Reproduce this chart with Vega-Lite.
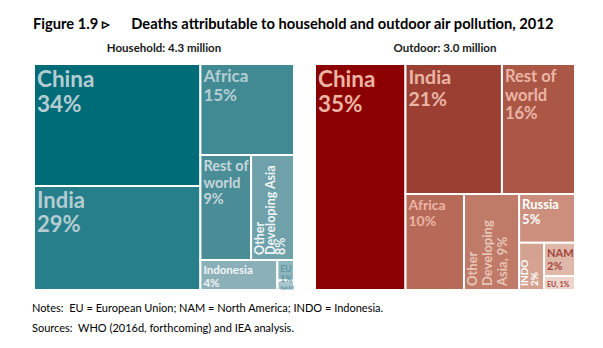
{
  "$schema": "https://vega.github.io/schema/vega-lite/v6.json",
  "background": "white",
  "padding": {"left": 32, "top": 16, "right": 5, "bottom": 0},
  "config": {"view": {"stroke": null}, "text": {"font": "Lato"}},
  "datasets": {
    "household": [
      {"region": "China", "label": "China\n34%", "share": 34, "x0": 0, "x1": 64, "ytop": 0, "ybot": 54},
      {"region": "India", "label": "India\n29%", "share": 29, "x0": 0, "x1": 64, "ytop": 54, "ybot": 100},
      {"region": "Africa", "label": "Africa\n15%", "share": 15, "x0": 64, "x1": 100, "ytop": 0, "ybot": 40.3},
      {"region": "Rest of world", "label": "Rest of\nworld\n9%", "share": 9, "x0": 64, "x1": 83.5, "ytop": 40.3, "ybot": 86.7},
      {"region": "Other Developing Asia", "label": "Other\nDeveloping Asia\n8%", "share": 8, "x0": 83.5, "x1": 100, "ytop": 40.3, "ybot": 86.7},
      {"region": "Indonesia", "label": "Indonesia\n4%", "share": 4, "x0": 64, "x1": 93.6, "ytop": 86.7, "ybot": 100},
      {"region": "EU", "label": "EU\n1%", "share": 1, "x0": 93.6, "x1": 100, "ytop": 86.7, "ybot": 95.8},
      {"region": "NAM", "label": "NAM", "share": 0.3, "x0": 93.6, "x1": 100, "ytop": 95.8, "ybot": 100}
    ],
    "outdoor": [
      {"region": "China", "label": "China\n35%", "share": 35, "x0": 0, "x1": 34.8, "ytop": 0, "ybot": 100},
      {"region": "India", "label": "India\n21%", "share": 21, "x0": 34.8, "x1": 71.9, "ytop": 0, "ybot": 57.5},
      {"region": "Rest of world", "label": "Rest of\nworld\n16%", "share": 16, "x0": 71.9, "x1": 100, "ytop": 0, "ybot": 57.5},
      {"region": "Africa", "label": "Africa\n10%", "share": 10, "x0": 34.8, "x1": 57.3, "ytop": 57.5, "ybot": 100},
      {"region": "Other Developing Asia", "label": "Other\nDeveloping\nAsia, 9%", "share": 9, "x0": 57.3, "x1": 78.5, "ytop": 57.5, "ybot": 100},
      {"region": "Russia", "label": "Russia\n5%", "share": 5, "x0": 78.5, "x1": 100, "ytop": 57.5, "ybot": 79.1},
      {"region": "INDO", "label": "INDO\n2%", "share": 2, "x0": 78.5, "x1": 88.1, "ytop": 79.1, "ybot": 100},
      {"region": "NAM", "label": "NAM\n2%", "share": 2, "x0": 88.1, "x1": 100, "ytop": 79.1, "ybot": 93.8},
      {"region": "EU", "label": "EU, 1%", "share": 1, "x0": 88.1, "x1": 100, "ytop": 93.8, "ybot": 100}
    ]
  },
  "title": {
    "text": ["Notes:\u00a0\u00a0EU = European Union; NAM = North America; INDO = Indonesia.", "Sources:\u00a0\u00a0WHO (2016d, forthcoming) and IEA analysis."],
    "orient": "bottom", "anchor": "start", "dx": -1, "offset": 12,
    "font": "Lato", "fontSize": 11, "fontWeight": "normal", "lineHeight": 20, "color": "#000000"
  },
  "vconcat": [
    {
      "title": {"text": "Figure 1.9 \u25b9\u00a0\u00a0\u00a0\u00a0\u00a0\u00a0Deaths attributable to household and outdoor air pollution, 2012", "anchor": "start", "dx": 0, "font": "Lato", "fontSize": 14.7, "fontWeight": "bold", "color": "#000000", "offset": 11},
      "spacing": 19,
      "resolve": {"scale": {"color": "independent", "size": "independent"}},
      "hconcat": [
        {
          "width": 260, "height": 226,
          "title": {"text": "Household: 4.3 million", "anchor": "middle", "font": "Lato", "fontSize": 11.5, "fontWeight": "bold", "color": "#1a1a1a", "offset": 9},
          "data": {"name": "household"},
          "encoding": {
            "x": {"field": "x0", "type": "quantitative", "scale": {"domain": [0, 100], "nice": false}, "axis": null},
            "y": {"field": "ytop", "type": "quantitative", "scale": {"domain": [0, 100], "nice": false, "reverse": true}, "axis": null}
          },
          "layer": [
            {
              "mark": {"type": "rect", "stroke": "white", "strokeWidth": 2},
              "encoding": {
                "x2": {"field": "x1"}, "y2": {"field": "ybot"},
                "color": {"field": "region", "type": "nominal", "legend": null,
                  "scale": {"domain": ["China", "India", "Africa", "Rest of world", "Other Developing Asia", "Indonesia", "EU", "NAM"],
                            "range": ["#006C78", "#267F8B", "#418A94", "#4B8D97", "#6FA1AB", "#8BB0B8", "#8EB6BF", "#A9C6CC"]}}
              }
            },
            {
              "transform": [{"filter": {"not": {"field": "region", "oneOf": ["Other Developing Asia"]}}}],
              "mark": {"type": "text", "align": "left", "baseline": "top", "dx": 3, "dy": 5, "fontWeight": "bold", "lineBreak": "\n"},
              "encoding": {
                "text": {"field": "label"},
                "size": {"field": "share", "type": "quantitative", "legend": null,
                  "scale": {"domain": [0.3, 1, 4, 9, 15, 29, 34], "range": [5.5, 8.5, 11.5, 14.5, 17, 22, 22.5]}},
                "color": {"condition": [
                  {"test": "datum.region === 'EU' || datum.region === 'NAM'", "value": "#5D96A0"},
                  {"test": "datum.region === 'Indonesia'", "value": "#F2F6F7"},
                  {"test": "datum.region === 'Rest of world'", "value": "#C4D6DA"}
                ], "value": "#B5CDD2"}
              }
            },
            {
              "transform": [{"filter": {"field": "region", "oneOf": ["Other Developing Asia"]}}],
              "mark": {"type": "text", "align": "left", "baseline": "top", "angle": 270, "dx": 5, "dy": 3, "fontSize": 12.5, "lineHeight": 10.5, "fontWeight": "bold", "lineBreak": "\n", "color": "#F0F5F6"},
              "encoding": {"text": {"field": "label"}, "y": {"field": "ybot", "type": "quantitative"}}
            }
          ]
        },
        {
          "width": 260, "height": 226,
          "title": {"text": "Outdoor: 3.0 million", "anchor": "middle", "font": "Lato", "fontSize": 11.5, "fontWeight": "bold", "color": "#1a1a1a", "offset": 9},
          "data": {"name": "outdoor"},
          "encoding": {
            "x": {"field": "x0", "type": "quantitative", "scale": {"domain": [0, 100], "nice": false}, "axis": null},
            "y": {"field": "ytop", "type": "quantitative", "scale": {"domain": [0, 100], "nice": false, "reverse": true}, "axis": null}
          },
          "layer": [
            {
              "mark": {"type": "rect", "stroke": "white", "strokeWidth": 2},
              "encoding": {
                "x2": {"field": "x1"}, "y2": {"field": "ybot"},
                "color": {"field": "region", "type": "nominal", "legend": null,
                  "scale": {"domain": ["China", "India", "Rest of world", "Africa", "Other Developing Asia", "Russia", "INDO", "NAM", "EU"],
                            "range": ["#8B0000", "#9C3F33", "#AA5746", "#B86A58", "#C07A68", "#CC8F7D", "#D4A291", "#E0B8AA", "#EDD5CC"]}}
              }
            },
            {
              "transform": [{"filter": {"not": {"field": "region", "oneOf": ["Other Developing Asia", "INDO"]}}}],
              "mark": {"type": "text", "align": "left", "baseline": "top", "dx": 3, "dy": 5, "fontWeight": "bold", "lineBreak": "\n"},
              "encoding": {
                "text": {"field": "label"},
                "size": {"field": "share", "type": "quantitative", "legend": null,
                  "scale": {"domain": [1, 2, 5, 10, 16, 21, 35], "range": [7, 11, 13, 14, 16.5, 19.5, 22.5]}},
                "color": {"condition": [
                  {"test": "datum.region === 'EU' || datum.region === 'NAM'", "value": "#A3463A"},
                  {"test": "datum.region === 'Russia'", "value": "#FFFFFF"}
                ], "value": "#EBB5A6"}
              }
            },
            {
              "transform": [{"filter": {"field": "region", "oneOf": ["Other Developing Asia"]}}],
              "mark": {"type": "text", "align": "left", "baseline": "top", "angle": 270, "dx": 4, "dy": 3, "fontSize": 13, "fontWeight": "bold", "lineBreak": "\n", "color": "#E8C5B8"},
              "encoding": {"text": {"field": "label"}, "y": {"field": "ybot", "type": "quantitative"}}
            },
            {
              "transform": [{"filter": {"field": "region", "oneOf": ["INDO"]}}],
              "mark": {"type": "text", "align": "left", "baseline": "top", "angle": 270, "dx": 4, "dy": 1, "fontSize": 10, "lineHeight": 9.5, "fontWeight": "bold", "lineBreak": "\n", "color": "#FFFFFF"},
              "encoding": {"text": {"field": "label"}, "y": {"field": "ybot", "type": "quantitative"}}
            }
          ]
        }
      ]
    }
  ]
}
